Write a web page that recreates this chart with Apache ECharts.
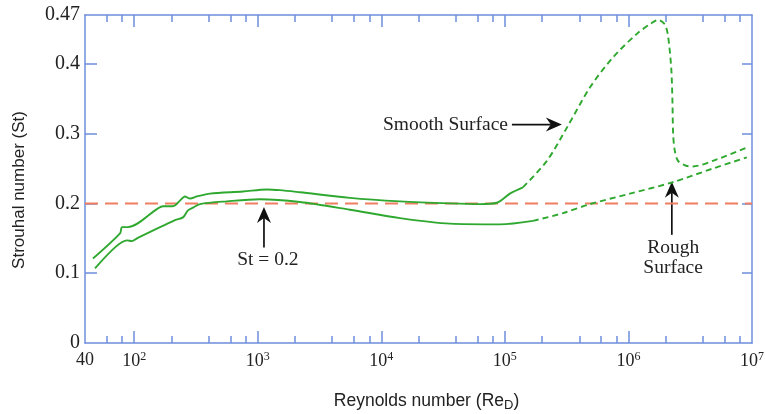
<!DOCTYPE html>
<html>
<head>
<meta charset="utf-8">
<script src="https://cdn.jsdelivr.net/npm/echarts@6/dist/echarts.min.js"></script>
<style>
html, body { margin: 0; padding: 0; background: #fff; }
#chart { width: 766px; height: 414px; }
</style>
</head>
<body>
<div id="chart"></div>
<script>
// values: [Re, St]
var smoothSolid = [[46.4,0.121],[76.8,0.157],[79.7,0.166],[89.1,0.166],[155.8,0.193],[171.1,0.196],[206,0.196],[235,0.204],[257.7,0.21],[282.9,0.207],[322.3,0.21],[410.6,0.214],[759,0.217],[1187,0.22],[1513,0.219],[2196,0.216],[5572,0.208],[14150,0.203],[35910,0.2],[62800,0.199],[86160,0.201],[109800,0.214],[139900,0.223]];
var smoothDashed = [[139900,0.223],[218800,0.261],[323500,0.311],[487300,0.366],[747900,0.409],[1170000,0.443],[1500000,0.457],[1750000,0.463],[1960000,0.457],[2080000,0.443],[2220000,0.394],[2270000,0.347],[2300000,0.3],[2370000,0.276],[2520000,0.261],[2930000,0.254],[3320000,0.253],[4819000,0.261],[9080000,0.28]];
var roughSolid = [[48.2,0.107],[70,0.137],[87.5,0.147],[96,0.146],[105.4,0.15],[214,0.176],[248.3,0.18],[272.5,0.19],[299.2,0.194],[340.8,0.199],[563.6,0.203],[1042,0.206],[2196,0.202],[5572,0.191],[14150,0.179],[35910,0.171],[91140,0.17],[168500,0.175]];
var roughDashed = [[168500,0.175],[294800,0.186],[487300,0.199],[1027000,0.214],[2245000,0.23],[4819000,0.25],[9080000,0.266]];
var stLevel = 0.2;
var reRange = [40, 1e7];

var xLabels = [40, 100, 1e3, 1e4, 1e5, 1e6, 1e7];
var xMajor = [100, 1e3, 1e4, 1e5, 1e6];
var xMinor = [60, 80, 200, 400, 600, 800, 2e3, 4e3, 6e3, 8e3, 2e4, 4e4, 6e4, 8e4,
              2e5, 4e5, 6e5, 8e5, 2e6, 4e6, 6e6, 8e6];
var yLabels = [0, 0.1, 0.2, 0.3, 0.4, 0.47];
var yTicks = [0.1, 0.2, 0.3, 0.4];

var blue = '#6f8fdc';
var green = '#2fa82f';
var serif = 'Liberation Serif';

function xAxisDef(pos, ticks, len, showLine, showLabel) {
    return {
        type: 'log', logBase: 10, min: reRange[0], max: reRange[1], position: pos,
        axisLine: { show: showLine, onZero: false, lineStyle: { color: blue, width: 1.5 } },
        axisTick: { show: true, inside: true, length: len, customValues: ticks,
                    lineStyle: { color: blue, width: 1.5 } },
        axisLabel: { show: showLabel },
        splitLine: { show: false }
    };
}

var xMain = xAxisDef('bottom', xMajor, 12, true, true);
xMain.axisLabel = {
    show: true, customValues: xLabels, margin: 8, color: '#222',
    fontFamily: serif, fontSize: 18,
    formatter: function (v) {
        if (Math.abs(v - 40) < 1) return '{b|40}';
        return '{b|10}{sup|' + Math.round(Math.log10(v)) + '}';
    },
    rich: {
        b: { fontFamily: serif, fontSize: 18, color: '#222' },
        sup: { fontFamily: serif, fontSize: 12, color: '#222', padding: [0, 0, 9, 0] }
    }
};
xMain.name = 'Reynolds number (Re{sub|D})';
xMain.nameLocation = 'middle';
xMain.nameGap = 47;
xMain.nameTextStyle = {
    fontFamily: 'Liberation Sans', fontSize: 17.5, color: '#222', padding: [0, 0, 0, 16],
    rich: { sub: { fontFamily: 'Liberation Sans', fontSize: 13, color: '#222', padding: [9, 0, 0, 0] } }
};

function yAxisDef(pos, len, showLabel) {
    return {
        type: 'value', min: 0, max: 0.47, position: pos,
        axisLine: { show: true, onZero: false, lineStyle: { color: blue, width: 1.5 } },
        axisTick: { show: true, inside: true, length: len, customValues: yTicks,
                    lineStyle: { color: blue, width: 1.5 } },
        axisLabel: {
            show: showLabel, customValues: yLabels, margin: 5, color: '#222',
            fontFamily: serif, fontSize: 20,
            formatter: function (v) { return String(Math.round(v * 100) / 100); }
        },
        splitLine: { show: false }
    };
}
var yMain = yAxisDef('left', 12, true);
yMain.name = 'Strouhal number (St)';
yMain.nameLocation = 'middle';
yMain.nameGap = 57;
yMain.nameTextStyle = { fontFamily: 'Liberation Sans', fontSize: 17, color: '#222', padding: [0, 22, 0, 0] };

function line(data, dashed) {
    return {
        type: 'line', xAxisIndex: 0, yAxisIndex: 0, data: data,
        showSymbol: false, smooth: 0.3, silent: true,
        lineStyle: { color: green, width: 1.9, type: dashed ? [6, 4] : 'solid' }
    };
}

var chart = echarts.init(document.getElementById('chart'));
chart.setOption({
    animation: false,
    backgroundColor: '#fff',
    grid: { left: 85, right: 14, top: 15, bottom: 71, containLabel: false, outerBoundsMode: 'none' },
    xAxis: [
        xMain,
        xAxisDef('bottom', xMinor, 7, false, false),
        xAxisDef('top', xMajor, 12, true, false),
        xAxisDef('top', xMinor, 7, false, false)
    ],
    yAxis: [yMain, yAxisDef('right', 10, false)],
    series: [
        {
            type: 'line', xAxisIndex: 0, yAxisIndex: 0, silent: true, showSymbol: false,
            data: [[reRange[0], stLevel], [reRange[1], stLevel]],
            lineStyle: { color: '#ef7f63', width: 2, type: [13, 7] }
        },
        line(smoothSolid, false),
        line(smoothDashed, true),
        line(roughSolid, false),
        line(roughDashed, true)
    ]
});

// annotation anchors, in data coordinates
var arrows = [
    { from: [1123, 0.137], to: [1123, 0.195] },
    { from: [114000, 0.313], to: [289300, 0.313] },
    { from: [2245000, 0.155], to: [2245000, 0.231] }
];
var notes = [
    { at: [1209, 0.119], text: 'St = 0.2', align: 'center' },
    { at: [106000, 0.313], text: 'Smooth Surface', align: 'right' },
    { at: [2300000, 0.137], text: 'Rough', align: 'center' },
    { at: [2300000, 0.107], text: 'Surface', align: 'center' }
];

function px(p) { return chart.convertToPixel({ xAxisIndex: 0, yAxisIndex: 0 }, p); }

var graphics = [];
arrows.forEach(function (a) {
    var p0 = px(a.from), p1 = px(a.to);
    var dx = p1[0] - p0[0], dy = p1[1] - p0[1];
    var d = Math.sqrt(dx * dx + dy * dy), ux = dx / d, uy = dy / d;
    var L = 16, W = 7, N = 11;
    var bx = p1[0] - ux * L, by = p1[1] - uy * L;
    var nx = p1[0] - ux * N, ny = p1[1] - uy * N;
    graphics.push({
        type: 'line', silent: true,
        shape: { x1: p0[0], y1: p0[1], x2: nx, y2: ny },
        style: { stroke: '#111', lineWidth: 1.7 }
    });
    graphics.push({
        type: 'polygon', silent: true,
        shape: { points: [[p1[0], p1[1]], [bx - uy * W, by + ux * W], [nx, ny], [bx + uy * W, by - ux * W]] },
        style: { fill: '#111' }
    });
});
notes.forEach(function (n) {
    var p = px(n.at);
    graphics.push({
        type: 'text', silent: true, x: p[0], y: p[1],
        style: { text: n.text, fill: '#222', font: '19.5px "Liberation Serif"',
                 align: n.align, verticalAlign: 'middle' }
    });
});
chart.setOption({ graphic: graphics });
</script>
</body>
</html>
